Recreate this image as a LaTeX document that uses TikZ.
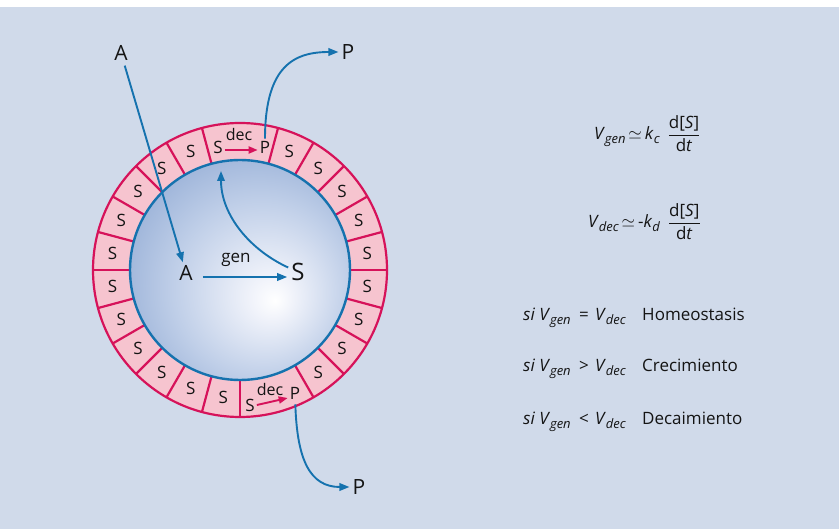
\documentclass[tikz,border=0pt]{standalone}
\usepackage{fontspec}
\setmainfont{Open Sans}
\usetikzlibrary{arrows.meta,calc}
\definecolor{bg}{RGB}{208,218,234}
\definecolor{ringpink}{RGB}{246,196,207}
\definecolor{crimson}{RGB}{214,18,90}
\definecolor{arrowblue}{RGB}{21,114,174}
\definecolor{ink}{RGB}{20,20,20}
\pgfdeclareradialshading{sphere}{\pgfpoint{8bp}{-7bp}}{rgb(0bp)=(1,1,1);rgb(5bp)=(0.94,0.95,0.98);rgb(20bp)=(0.75,0.81,0.91);rgb(38bp)=(0.52,0.63,0.81);rgb(50bp)=(0.35,0.49,0.73)}
\newcommand{\fs}[1]{\fontsize{#1}{#1}\selectfont}
\newcommand{\Vs}[1]{\textit{V}\kern-0.3pt\raisebox{-0.4ex}{\fs{13}\itshape #1}}
\newcommand{\subit}[1]{\raisebox{-0.4ex}{\fs{13}\itshape #1}}
\begin{document}
\begin{tikzpicture}[x=1pt,y=-1pt,
  lbl/.style={text=ink, inner sep=3pt},
  slabel/.style={text=ink, inner sep=2pt, font=\fs{17}},
  rtext/.style={text=ink, inner sep=0pt, anchor=base west, font=\fs{17}},
  bluearrow/.style={draw=arrowblue, line width=1.9pt, -{Triangle[length=10pt,width=7.5pt]}},
  decarrow/.style={draw=crimson, line width=1.9pt, -{Triangle[length=9pt,width=7pt]}}]
\useasboundingbox (0,0) rectangle (839,529);
\fill[white] (0,0) rectangle (839,529);
\fill[bg] (0,7) rectangle (839,529);
\coordinate (C) at (240,270);
% ring
\fill[ringpink,even odd rule] (C) circle[radius=147pt] (C) circle[radius=110pt];
\draw[crimson,line width=2.2pt] (C) circle[radius=147pt];
\foreach \a in {0,15,30,45,60,75,105,120,135,150,165,180,195,210,225,240,255,270,300,315,330,345}
  \draw[crimson,line width=2.2pt] (C) ++(\a:110pt) -- ++(\a:37pt);
% sphere
\shade[shading=sphere] (C) circle[radius=110pt];
\draw[arrowblue,line width=2.4pt] (C) circle[radius=110pt];
% S labels in ring
\foreach \a [count=\i] in {7.5,22.5,37.5,52.5,67.5,112.5,127.5,142.5,157.5,172.5,187.5,202.5,217.5,232.5,247.5,262.5,307.5,322.5,337.5,352.5}
  \node[slabel] (s\i) at ($(C)+(\a:128.5pt)$) {S};
% merged segments
\node[slabel] (Sr1) at (218,147) {S};
\node[slabel] (Pr1) at (265,147) {P};
\node[lbl,font=\fs{16}] (dec1) at (239,135) {dec};
\draw[decarrow] ([yshift=-3pt]Sr1.east) -- ([yshift=-3pt]Pr1.west);
\node[slabel] (Sr2) at (250,405) {S};
\node[slabel] (Pr2) at (295,393) {P};
\node[lbl,font=\fs{16}] (dec2) at (270,390) {dec};
\draw[decarrow] (Sr2.east) -- ([yshift=-5pt]Pr2.west);
% outer labels
\node[lbl,font=\fs{21}] (Aout) at (121,53) {A};
\node[lbl,font=\fs{21}] (Ptop) at (348,52) {P};
\node[lbl,font=\fs{21}] (Pbot) at (359,487) {P};
% inner
\node[lbl,font=\fs{21}] (Ain) at (186,273) {A};
\node[lbl,font=\fs{24}] (Sin) at (298,272) {S};
\node[lbl,font=\fs{17}] (gen) at (236,260) {gen};
\coordinate (tipS) at (221,171);
% arrows
\draw[bluearrow,shorten <=2pt] (Aout) -- (Ain);
\draw[bluearrow,shorten <=7pt,shorten >=1pt] ([yshift=-4pt]Ain.east) -- ([yshift=-4pt]Ain.east -| Sin.west);
\draw[bluearrow] (Sin) .. controls (250,250) and (221,215) .. (tipS);
\draw[bluearrow] (Pr1) .. controls (265,65) and (295,52) .. (Ptop);
\draw[bluearrow,shorten <=3pt] (Pr2) .. controls (297,460) and (310,487) .. (Pbot);
% equations
\node[rtext] (eq1) at (594,140) {\Vs{gen}\kern3pt$\simeq$\kern3pt\textit{k}\subit{c}\kern8pt$\displaystyle\frac{\mbox{d[\textit{S}]}}{\mbox{d\textit{t}}}$};
\node[rtext] (eq2) at (588,228) {\Vs{dec}\kern3pt$\simeq$\kern3pt-\textit{k}\subit{d}\kern8pt$\displaystyle\frac{\mbox{d[\textit{S}]}}{\mbox{d\textit{t}}}$};
% conditions
\node[rtext] (c1a) at (523,321) {\textit{si} \Vs{gen}};
\node[rtext,anchor=base] (c1b) at (584,321) {=};
\node[rtext] (c1c) at (595,321) {\Vs{dec}};
\node[rtext] (c1d) at (642,321) {Homeostasis};
\node[rtext] (c2a) at (523,372) {\textit{si} \Vs{gen}};
\node[rtext,anchor=base] (c2b) at (584,372) {>};
\node[rtext] (c2c) at (595,372) {\Vs{dec}};
\node[rtext] (c2d) at (642,372) {Crecimiento};
\node[rtext] (c3a) at (523,425) {\textit{si} \Vs{gen}};
\node[rtext,anchor=base] (c3b) at (584,425) {<};
\node[rtext] (c3c) at (595,425) {\Vs{dec}};
\node[rtext] (c3d) at (642,425) {Decaimiento};
\end{tikzpicture}
\end{document}
